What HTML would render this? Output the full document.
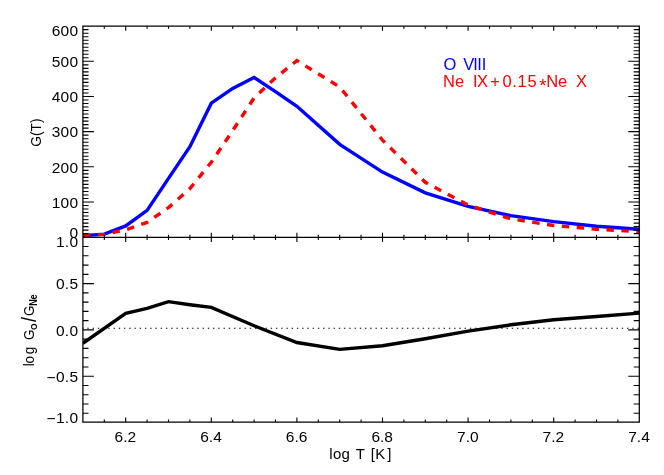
<!DOCTYPE html>
<html><head><meta charset="utf-8"><title>G(T)</title>
<style>html,body{margin:0;padding:0;background:#fff}body{width:664px;height:475px;overflow:hidden}svg{display:block;will-change:transform}text{font-family:"Liberation Sans",sans-serif;fill:#000;white-space:pre}</style></head><body>
<svg width="664" height="475" viewBox="0 0 664 475">
<rect width="664" height="475" fill="#fff"/>
<clipPath id="c1"><rect x="82.9" y="26.2" width="557.1" height="211.50"/></clipPath>
<clipPath id="c2"><rect x="82.9" y="237.4" width="557.1" height="184.6"/></clipPath>
<g clip-path="url(#c1)" fill="none" stroke-width="3.4" stroke-linejoin="miter"><polyline points="82.90,235.74 104.30,234.16 125.70,225.90 147.10,210.42 168.50,178.42 189.90,146.77 211.30,103.16 232.70,88.39 254.10,77.49 275.50,91.56 296.90,106.33 339.70,144.31 382.50,172.09 425.30,192.84 468.10,206.38 510.90,215.70 553.70,221.68 596.50,226.25 639.30,229.24" stroke="#0000ff"/>
<polyline points="82.90,235.39 104.30,234.34 125.70,229.76 147.10,222.38 168.50,207.61 189.90,188.62 211.30,162.24 232.70,130.59 254.10,97.89 275.50,77.84 296.90,60.61 339.70,86.99 382.50,140.09 425.30,182.29 468.10,205.15 510.90,218.86 553.70,225.54 596.50,229.20 639.30,231.73" stroke="#ff0000" stroke-width="3.4" stroke-dasharray="7.4 7.53"/></g>
<g clip-path="url(#c2)"><polyline points="82.90,343.23 125.70,313.42 147.10,308.42 168.50,301.66 189.90,304.71 211.30,307.40 254.10,325.73 296.90,342.49 339.70,349.35 382.50,345.73 425.30,338.70 468.10,331.10 510.90,324.81 553.70,319.81 596.50,316.57 639.30,313.14" fill="none" stroke="#000" stroke-width="3.4" stroke-linejoin="miter"/></g>
<path d="M104.30 26.20v2.6M104.30 234.80v5.2M104.30 422.00v-2.6M125.70 26.20v4.6M125.70 232.80v9.2M125.70 422.00v-4.6M147.10 26.20v2.6M147.10 234.80v5.2M147.10 422.00v-2.6M168.50 26.20v2.6M168.50 234.80v5.2M168.50 422.00v-2.6M189.90 26.20v2.6M189.90 234.80v5.2M189.90 422.00v-2.6M211.30 26.20v4.6M211.30 232.80v9.2M211.30 422.00v-4.6M232.70 26.20v2.6M232.70 234.80v5.2M232.70 422.00v-2.6M254.10 26.20v2.6M254.10 234.80v5.2M254.10 422.00v-2.6M275.50 26.20v2.6M275.50 234.80v5.2M275.50 422.00v-2.6M296.90 26.20v4.6M296.90 232.80v9.2M296.90 422.00v-4.6M318.30 26.20v2.6M318.30 234.80v5.2M318.30 422.00v-2.6M339.70 26.20v2.6M339.70 234.80v5.2M339.70 422.00v-2.6M361.10 26.20v2.6M361.10 234.80v5.2M361.10 422.00v-2.6M382.50 26.20v4.6M382.50 232.80v9.2M382.50 422.00v-4.6M403.90 26.20v2.6M403.90 234.80v5.2M403.90 422.00v-2.6M425.30 26.20v2.6M425.30 234.80v5.2M425.30 422.00v-2.6M446.70 26.20v2.6M446.70 234.80v5.2M446.70 422.00v-2.6M468.10 26.20v4.6M468.10 232.80v9.2M468.10 422.00v-4.6M489.50 26.20v2.6M489.50 234.80v5.2M489.50 422.00v-2.6M510.90 26.20v2.6M510.90 234.80v5.2M510.90 422.00v-2.6M532.30 26.20v2.6M532.30 234.80v5.2M532.30 422.00v-2.6M553.70 26.20v4.6M553.70 232.80v9.2M553.70 422.00v-4.6M575.10 26.20v2.6M575.10 234.80v5.2M575.10 422.00v-2.6M596.50 26.20v2.6M596.50 234.80v5.2M596.50 422.00v-2.6M617.90 26.20v2.6M617.90 234.80v5.2M617.90 422.00v-2.6M82.90 233.63h5.6M639.30 233.63h-5.6M82.90 230.12h5.6M639.30 230.12h-5.6M82.90 226.60h5.6M639.30 226.60h-5.6M82.90 223.08h5.6M639.30 223.08h-5.6M82.90 219.57h5.6M639.30 219.57h-5.6M82.90 216.05h5.6M639.30 216.05h-5.6M82.90 212.53h5.6M639.30 212.53h-5.6M82.90 209.02h5.6M639.30 209.02h-5.6M82.90 205.50h5.6M639.30 205.50h-5.6M82.90 201.98h11.0M639.30 201.98h-11.0M82.90 198.47h5.6M639.30 198.47h-5.6M82.90 194.95h5.6M639.30 194.95h-5.6M82.90 191.43h5.6M639.30 191.43h-5.6M82.90 187.92h5.6M639.30 187.92h-5.6M82.90 184.40h5.6M639.30 184.40h-5.6M82.90 180.88h5.6M639.30 180.88h-5.6M82.90 177.37h5.6M639.30 177.37h-5.6M82.90 173.85h5.6M639.30 173.85h-5.6M82.90 170.33h5.6M639.30 170.33h-5.6M82.90 166.82h11.0M639.30 166.82h-11.0M82.90 163.30h5.6M639.30 163.30h-5.6M82.90 159.78h5.6M639.30 159.78h-5.6M82.90 156.27h5.6M639.30 156.27h-5.6M82.90 152.75h5.6M639.30 152.75h-5.6M82.90 149.23h5.6M639.30 149.23h-5.6M82.90 145.72h5.6M639.30 145.72h-5.6M82.90 142.20h5.6M639.30 142.20h-5.6M82.90 138.68h5.6M639.30 138.68h-5.6M82.90 135.17h5.6M639.30 135.17h-5.6M82.90 131.65h11.0M639.30 131.65h-11.0M82.90 128.13h5.6M639.30 128.13h-5.6M82.90 124.62h5.6M639.30 124.62h-5.6M82.90 121.10h5.6M639.30 121.10h-5.6M82.90 117.58h5.6M639.30 117.58h-5.6M82.90 114.07h5.6M639.30 114.07h-5.6M82.90 110.55h5.6M639.30 110.55h-5.6M82.90 107.03h5.6M639.30 107.03h-5.6M82.90 103.52h5.6M639.30 103.52h-5.6M82.90 100.00h5.6M639.30 100.00h-5.6M82.90 96.48h11.0M639.30 96.48h-11.0M82.90 92.97h5.6M639.30 92.97h-5.6M82.90 89.45h5.6M639.30 89.45h-5.6M82.90 85.93h5.6M639.30 85.93h-5.6M82.90 82.42h5.6M639.30 82.42h-5.6M82.90 78.90h5.6M639.30 78.90h-5.6M82.90 75.38h5.6M639.30 75.38h-5.6M82.90 71.87h5.6M639.30 71.87h-5.6M82.90 68.35h5.6M639.30 68.35h-5.6M82.90 64.83h5.6M639.30 64.83h-5.6M82.90 61.32h11.0M639.30 61.32h-11.0M82.90 57.80h5.6M639.30 57.80h-5.6M82.90 54.28h5.6M639.30 54.28h-5.6M82.90 50.76h5.6M639.30 50.76h-5.6M82.90 47.25h5.6M639.30 47.25h-5.6M82.90 43.73h5.6M639.30 43.73h-5.6M82.90 40.21h5.6M639.30 40.21h-5.6M82.90 36.70h5.6M639.30 36.70h-5.6M82.90 33.18h5.6M639.30 33.18h-5.6M82.90 29.66h5.6M639.30 29.66h-5.6M82.90 413.24h5.6M639.30 413.24h-5.6M82.90 403.98h5.6M639.30 403.98h-5.6M82.90 394.72h5.6M639.30 394.72h-5.6M82.90 385.46h5.6M639.30 385.46h-5.6M82.90 376.20h11.0M639.30 376.20h-11.0M82.90 366.94h5.6M639.30 366.94h-5.6M82.90 357.68h5.6M639.30 357.68h-5.6M82.90 348.42h5.6M639.30 348.42h-5.6M82.90 339.16h5.6M639.30 339.16h-5.6M82.90 329.90h11.0M639.30 329.90h-11.0M82.90 320.64h5.6M639.30 320.64h-5.6M82.90 311.38h5.6M639.30 311.38h-5.6M82.90 302.12h5.6M639.30 302.12h-5.6M82.90 292.86h5.6M639.30 292.86h-5.6M82.90 283.60h11.0M639.30 283.60h-11.0M82.90 274.34h5.6M639.30 274.34h-5.6M82.90 265.08h5.6M639.30 265.08h-5.6M82.90 255.82h5.6M639.30 255.82h-5.6M82.90 246.56h5.6M639.30 246.56h-5.6" stroke="#000" stroke-width="1.1" fill="none"/>
<path d="M82.9 26.2H639.3V422.0H82.9Z M82.9 237.4H639.3" stroke="#000" stroke-width="1.25" fill="none" stroke-linejoin="miter"/>
<path d="M82.9 328.3H639.3" stroke="#000" stroke-width="1.1" stroke-dasharray="1.4 3.84" stroke-dashoffset="0.84" fill="none"/>
<text x="78.4" y="238.2" font-size="15.5" text-anchor="end" letter-spacing="0.3">0</text>
<text x="78.4" y="207.7" font-size="15.5" text-anchor="end" letter-spacing="0.3">100</text>
<text x="78.4" y="172.5" font-size="15.5" text-anchor="end" letter-spacing="0.3">200</text>
<text x="78.4" y="137.3" font-size="15.5" text-anchor="end" letter-spacing="0.3">300</text>
<text x="78.4" y="102.2" font-size="15.5" text-anchor="end" letter-spacing="0.3">400</text>
<text x="78.4" y="67.0" font-size="15.5" text-anchor="end" letter-spacing="0.3">500</text>
<text x="78.4" y="36.2" font-size="15.5" text-anchor="end" letter-spacing="0.3">600</text>
<text x="78.4" y="246.9" font-size="15.5" text-anchor="end" letter-spacing="0.3">1.0</text>
<text x="78.4" y="289.3" font-size="15.5" text-anchor="end" letter-spacing="0.3">0.5</text>
<text x="78.4" y="335.6" font-size="15.5" text-anchor="end" letter-spacing="0.3">0.0</text>
<text x="78.4" y="381.9" font-size="15.5" text-anchor="end" letter-spacing="0.3"><tspan dy="1.1">−</tspan><tspan dy="-1.1">0.5</tspan></text>
<text x="78.4" y="422.7" font-size="15.5" text-anchor="end" letter-spacing="0.3"><tspan dy="1.1">−</tspan><tspan dy="-1.1">1.0</tspan></text>
<text x="125.4" y="441.8" font-size="15.5" text-anchor="middle">6.2</text>
<text x="211.0" y="441.8" font-size="15.5" text-anchor="middle">6.4</text>
<text x="296.6" y="441.8" font-size="15.5" text-anchor="middle">6.6</text>
<text x="382.2" y="441.8" font-size="15.5" text-anchor="middle">6.8</text>
<text x="467.8" y="441.8" font-size="15.5" text-anchor="middle">7.0</text>
<text x="553.4" y="441.8" font-size="15.5" text-anchor="middle">7.2</text>
<text x="639.0" y="441.8" font-size="15.5" text-anchor="middle">7.4</text>
<text x="329.28 333.03 341.60 349.94 355.72 364.88 370.79 375.27 387.29" y="458.9" font-size="15">log T [K]</text>
<text transform="translate(40.6,132.6) rotate(-90) scale(0.915,1)" x="0" y="0" font-size="15" text-anchor="middle">G(T)</text>
<text transform="translate(33.6,0) rotate(-90) scale(0.9,1)" y="0" font-size="15"><tspan x="-406.89 -403.89 -393.67 -385.33 -377.76">log G</tspan><tspan x="-366.58" dy="3.7" font-size="9.5" font-weight="bold">O</tspan><tspan x="-357.78" dy="-0.9" font-size="20">/</tspan><tspan x="-351.10" dy="-2.8">G</tspan><tspan x="-339.83 -332.69" dy="3.7" font-size="10" font-weight="bold">Ne</tspan></text>
<text x="443.59 456.42 463.20 473.21 477.36 481.76" y="69.9" font-size="16.5" style="fill:#0000ff">O VIII</text>
<text y="87.2" font-size="16.5" style="fill:#ff0000"><tspan x="443.09 454.93 464.10 473.11 476.99 490.14 502.51 512.31 517.59 527.53">Ne IX+0.15</tspan><tspan x="539.19" dy="5.2" font-size="18.5">*</tspan><tspan x="546.19 557.93 567.10 576.09" dy="-5.2">Ne X</tspan></text>
</svg></body></html>
